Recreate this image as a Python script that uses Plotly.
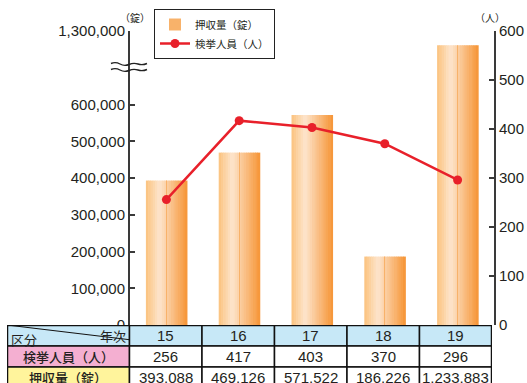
import plotly.graph_objects as go

# ---------------- data ----------------
years = ["15", "16", "17", "18", "19"]
arrests = [256, 417, 403, 370, 296]                       # 検挙人員（人）
seized = [393088, 469126, 571522, 186226, 1233883]        # 押収量（錠）
left_ticks = [0, 100000, 200000, 300000, 400000, 500000, 600000]
left_top_tick = 1300000
right_ticks = [0, 100, 200, 300, 400, 500, 600]
row_labels = ["検挙人員（人）", "押収量（錠）"]
bar_name = "押収量（錠）"
line_name = "検挙人員（人）"

# ---------------- style / layout constants ----------------
W, H = 527, 383
FONT_NUM = "Liberation Sans, Arial, sans-serif"
FONT_JP = "Noto Sans CJK JP, sans-serif"
TXT = "#231f20"
AX = "#3a3a3a"

# axis break: values above the break are drawn on a compressed upper part
DISP_TOP = 800000          # display value where 1,300,000 sits
UPPER_SCALE = 0.59


def to_display(v):
    if v <= 700000:
        return v
    return DISP_TOP - (left_top_tick - v) * UPPER_SCALE


xs = list(range(len(years)))
disp_seized = [to_display(v) for v in seized]

# plot area in pixels
PX_L, PX_R, PX_T, PX_B = 130, 494, 31, 325
TABLE_L = 7
slot = (PX_R - PX_L) / len(years)
header_w = (PX_L - TABLE_L) / slot

fig = go.Figure()

# gradient bars built from thin slices
stops = [(0.0, (251, 194, 125)), (0.33, (253, 229, 205)), (1.0, (246, 149, 54))]


def grad(t):
    for (t0, c0), (t1, c1) in zip(stops[:-1], stops[1:]):
        if t0 <= t <= t1:
            f = (t - t0) / (t1 - t0)
            return "rgb(%d,%d,%d)" % tuple(round(a + (b - a) * f) for a, b in zip(c0, c1))
    return "rgb(%d,%d,%d)" % stops[-1][1]


N = 18
bw = 41 / slot
sw = bw / N
for i in range(N):
    fig.add_trace(go.Bar(
        x=xs, y=disp_seized, width=sw * 1.25, offset=-bw / 2 + i * sw,
        marker=dict(color=grad((i + 0.5) / N), line=dict(width=0)),
        name=bar_name, showlegend=False, legendgroup="bar",
        hoverinfo="skip", yaxis="y",
    ))
# legend entry for the bars (representative colour)
fig.add_trace(go.Bar(
    x=xs, y=disp_seized, width=0, marker=dict(color="#f8b26a", line=dict(width=0)),
    name=bar_name, showlegend=True, legendgroup="bar", hoverinfo="skip", yaxis="y",
))

fig.add_trace(go.Scatter(
    x=xs, y=arrests, mode="lines+markers", name=line_name, yaxis="y2",
    line=dict(color="#e8202a", width=2.5),
    marker=dict(color="#e8202a", size=9),
))

xdom = [PX_L / W, PX_R / W]
ydom = [(H - PX_B) / H, (H - PX_T) / H]

fig.update_layout(
    width=W, height=H, margin=dict(l=0, r=0, t=0, b=0, autoexpand=False),
    paper_bgcolor="white", plot_bgcolor="rgba(0,0,0,0)",
    barmode="overlay",
    font=dict(family=FONT_NUM, color=TXT),
    xaxis=dict(domain=xdom, range=[-0.5, len(years) - 0.5], visible=False,
               fixedrange=True, automargin=False),
    yaxis=dict(
        domain=ydom, range=[0, DISP_TOP], showgrid=False, zeroline=False, automargin=False,
        showline=True, linecolor=AX, linewidth=2,
        ticks="inside", ticklen=5, tickwidth=1.5, tickcolor=AX,
        tickvals=left_ticks + [DISP_TOP],
        ticktext=[f"{v:,}" for v in left_ticks] + [f"{left_top_tick:,}"],
        tickfont=dict(size=15, family=FONT_NUM, color=TXT),
    ),
    yaxis2=dict(
        overlaying="y", side="right", anchor="x", range=[0, 600], automargin=False,
        showgrid=False, zeroline=False, showline=True, linecolor=AX, linewidth=2,
        ticks="inside", ticklen=5, tickwidth=1.5, tickcolor=AX,
        tickvals=right_ticks, ticktext=[str(v) for v in right_ticks],
        tickfont=dict(size=15, family=FONT_NUM, color=TXT),
    ),
    xaxis3=dict(domain=[TABLE_L / W, 492 / W], anchor="y3", automargin=False,
                range=[-0.5 - header_w, len(years) - 0.5], visible=False, fixedrange=True),
    yaxis3=dict(domain=[0, (H - PX_B) / H], anchor="x3", automargin=False,
                range=[3 - (H - PX_B) / 21.0, 3], visible=False, fixedrange=True),
    legend=dict(
        x=154 / W, y=(H - 9) / H, xanchor="left", yanchor="top",
        bordercolor="#222", borderwidth=1, bgcolor="white",
        font=dict(family=FONT_JP, size=10.5, color=TXT),
        itemwidth=30, tracegroupgap=0,
    ),
    showlegend=True,
)

shapes = []
ann = []

# ----- table -----
xl = -0.5 - header_w
cols = [(xl, -0.5)] + [(i - 0.5, i + 0.5) for i in xs]
rows = [(2, 3), (1, 2), (0, 1)]
fills_first = ["#c7e8f7", "#f4afd1", "#fff49c"]
for r, (y0, y1) in enumerate(rows):
    for c, (x0, x1) in enumerate(cols):
        if r == 0:
            fc = fills_first[0]
        elif c == 0:
            fc = fills_first[r]
        else:
            fc = "white"
        shapes.append(dict(type="rect", xref="x3", yref="y3", x0=x0, x1=x1, y0=y0, y1=y1,
                           fillcolor=fc, line=dict(color="#111", width=1.5), layer="below"))
shapes.append(dict(type="rect", xref="x3", yref="y3", x0=xl, x1=len(years) - 0.5, y0=0, y1=3,
                   fillcolor="rgba(0,0,0,0)", line=dict(color="#111", width=2.5)))
# diagonal in header cell
shapes.append(dict(type="line", xref="x3", yref="y3", x0=xl, y0=3, x1=-0.5, y1=2.3,
                   line=dict(color="#111", width=1)))

ann.append(dict(xref="x3", yref="y3", x=xl + 0.03, y=2.5, text="区分", showarrow=False,
                xanchor="left", yanchor="middle", yshift=-4,
                font=dict(family=FONT_JP, size=13, color=TXT)))
ann.append(dict(xref="x3", yref="y3", x=-0.52, y=2.5, text="年次", showarrow=False,
                xanchor="right", yanchor="middle", yshift=0,
                font=dict(family=FONT_JP, size=13, color=TXT)))
for r, lab in enumerate(row_labels):
    ann.append(dict(xref="x3", yref="y3", x=(xl - 0.5) / 2, y=1.5 - r, text=lab, showarrow=False,
                    font=dict(family=FONT_JP, size=13, color=TXT, weight=500)))
for i, yv in enumerate(years):
    ann.append(dict(xref="x3", yref="y3", x=i, y=2.5, text=yv, showarrow=False,
                    font=dict(family=FONT_NUM, size=15, color=TXT)))
    ann.append(dict(xref="x3", yref="y3", x=i, y=1.5, text=f"{arrests[i]}", showarrow=False,
                    font=dict(family=FONT_NUM, size=15, color=TXT)))
    ann.append(dict(xref="x3", yref="y3", x=i, y=0.5, text=f"{seized[i]:,}", showarrow=False,
                    font=dict(family=FONT_NUM, size=15, color=TXT)))

# unit labels
ann.append(dict(xref="paper", yref="paper", x=118 / W, y=(H - 17) / H, text="（錠）",
                yanchor="middle", showarrow=False, font=dict(family=FONT_JP, size=10, color=TXT)))
ann.append(dict(xref="paper", yref="paper", x=507 / W, y=(H - 17) / H, text="（人）",
                yanchor="middle", showarrow=False, font=dict(family=FONT_JP, size=10, color=TXT)))


# axis break symbol (two wavy lines)
def px(x, y):
    return f"{x / W:.5f},{(H - y) / H:.5f}"


for yc in (64.5, 70.5):
    x0, x1 = 111, 147
    d = (f"M{px(x0, yc - 1)} C{px(x0 + 9, yc - 5)} {px(x0 + 9, yc + 4)} {px(x0 + 18, yc)} "
         f"C{px(x0 + 27, yc - 4)} {px(x0 + 27, yc + 3)} {px(x1, yc - 1)}")
    shapes.append(dict(type="path", xref="paper", yref="paper", path=d,
                       line=dict(color="#222", width=1.4)))

fig.update_layout(shapes=shapes, annotations=ann)
fig.write_html("out.html")
